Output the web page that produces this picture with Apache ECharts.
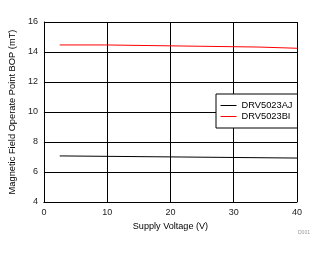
<!DOCTYPE html>
<html><head><meta charset="utf-8">
<script src="https://cdn.jsdelivr.net/npm/echarts@6/dist/echarts.min.js"></script>
<style>html,body{margin:0;padding:0;background:#fff}#c{width:326px;height:254px}</style>
</head><body><div id="c"></div>
<script>
var seriesNames = ['DRV5023AJ', 'DRV5023BI'];
var ajVoltage = [2.5, 3.0, 3.0, 21.8, 21.8, 40];
var ajBop = [7.07, 7.07, 7.0, 7.0, 6.93, 6.93];
var biVoltage = [2.5, 9.6, 9.6, 21.8, 21.8, 34, 34, 40];
var biBop = [14.47, 14.47, 14.4, 14.4, 14.33, 14.33, 14.25, 14.25];
var xTicks = [0, 10, 20, 30, 40];
var yTicks = [4, 6, 8, 10, 12, 14, 16];

function pairs(xs, ys) { return xs.map(function (x, i) { return [x, ys[i]]; }); }
var font = 'Liberation Sans, Arial, sans-serif';
var chart = echarts.init(document.getElementById('c'));
chart.setOption({
  animation: false,
  backgroundColor: '#fff',
  grid: { left: 42, top: 22, width: 255, height: 180 },
  xAxis: {
    type: 'value', min: xTicks[0], max: xTicks[xTicks.length - 1], interval: 10,
    name: 'Supply Voltage (V)', nameLocation: 'middle', nameGap: 17,
    nameTextStyle: { color: '#000', fontSize: 9.1, fontFamily: font },
    axisLine: { lineStyle: { color: '#000', width: 1 } },
    axisTick: { show: false },
    axisLabel: { color: '#222', fontSize: 9, fontFamily: font, margin: 6 },
    splitLine: { lineStyle: { color: '#000', width: 1 } }
  },
  yAxis: {
    type: 'value', min: yTicks[0], max: yTicks[yTicks.length - 1], interval: 2,
    name: 'Magnetic Field Operate Point BOP (mT)', nameLocation: 'middle', nameGap: 18,
    nameTextStyle: { color: '#000', fontSize: 9.3, fontFamily: font },
    axisLine: { show: true, lineStyle: { color: '#000', width: 1 } },
    axisTick: { show: false },
    axisLabel: { color: '#222', fontSize: 9, fontFamily: font, margin: 6 },
    splitLine: { lineStyle: { color: '#000', width: 1 } }
  },
  legend: {
    data: seriesNames, orient: 'vertical', left: 216, top: 94,
    backgroundColor: '#fff', borderColor: '#000', borderWidth: 1,
    borderRadius: 0, padding: [7, 5, 7, 4], itemGap: 2, itemWidth: 16, itemHeight: 10,
    itemStyle: { opacity: 0 },
    lineStyle: { width: 1, opacity: 1 },
    textStyle: { color: '#000', fontSize: 9.3, fontFamily: font }
  },
  graphic: [{ type: 'text', left: 298, top: 230, style: { text: 'D001', fill: '#999', fontSize: 5, fontFamily: font } }],
  series: [
    { name: seriesNames[0], type: 'line', data: pairs(ajVoltage, ajBop), symbol: 'none', lineStyle: { color: '#000', width: 1 }, itemStyle: { color: '#000' } },
    { name: seriesNames[1], type: 'line', data: pairs(biVoltage, biBop), symbol: 'none', lineStyle: { color: '#ff0000', width: 1 }, itemStyle: { color: '#ff0000' } }
  ]
});
</script></body></html>
